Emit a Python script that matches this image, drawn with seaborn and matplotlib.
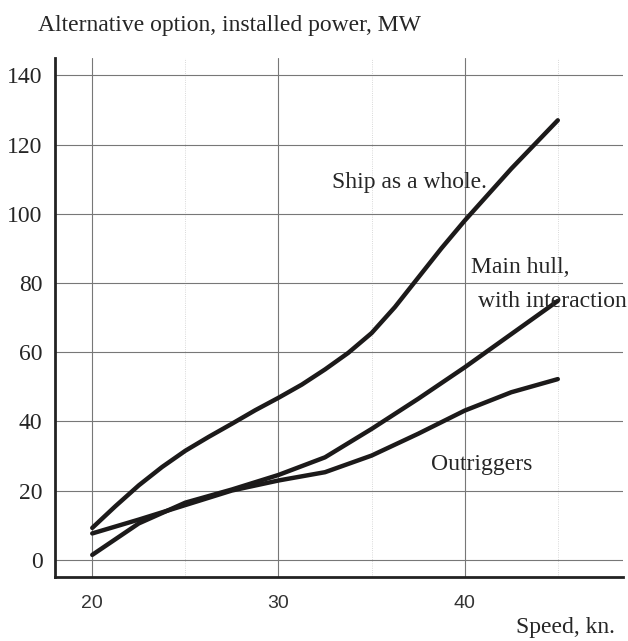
import numpy as np
import pandas as pd
import matplotlib
matplotlib.use("Agg")
import matplotlib.pyplot as plt
import seaborn as sns
from matplotlib.ticker import MultipleLocator

# values
ship_speed = [20, 21.25, 22.5, 23.75, 25, 26.25, 27.5, 28.75, 30, 31.25, 32.5,
              33.75, 35, 36.25, 37.5, 38.75, 40, 42.5, 45]
ship_whole = [9.2, 15.5, 21.5, 26.8, 31.5, 35.5, 39.3, 43.2, 46.8, 50.6, 55,
              59.8, 65.5, 73, 81.5, 90, 98, 113, 127]

speed = [20, 22.5, 25, 27.5, 30, 32.5, 35, 37.5, 40, 42.5, 45]
main_hull = [1.4, 10.5, 16.5, 20.3, 24.5, 29.6, 37.8, 46.5, 55.6, 65.2, 74.8]
outriggers = [7.6, 11.6, 15.8, 20, 22.9, 25.3, 30.1, 36.4, 43.1, 48.4, 52.2]

df = pd.concat([
    pd.DataFrame({"speed": ship_speed, "power": ship_whole, "series": "Ship as a whole"}),
    pd.DataFrame({"speed": speed, "power": main_hull, "series": "Main hull"}),
    pd.DataFrame({"speed": speed, "power": outriggers, "series": "Outriggers"}),
], ignore_index=True)

sns.set_style("white")
plt.rcParams["font.family"] = ["Liberation Serif", "DejaVu Serif"]

fig = plt.figure(figsize=(6.28, 6.41), dpi=100)
ax = fig.add_axes([0.0876, 0.0998, 0.9044, 0.8097])

sns.lineplot(data=df, x="speed", y="power", hue="series",
             palette=["#1c1a1a"] * 3, linewidth=3.2, legend=False, ax=ax)

ax.set_xlim(18, 48.5)
ax.set_ylim(-5, 145)
ax.xaxis.set_major_locator(MultipleLocator(10))
ax.xaxis.set_minor_locator(MultipleLocator(5))
ax.yaxis.set_major_locator(MultipleLocator(20))
ax.yaxis.set_minor_locator(MultipleLocator(10))

ax.grid(which="major", color="#777777", linewidth=0.8)
ax.grid(which="minor", axis="x", color="#cccccc", linewidth=0.6, linestyle=":")

for s in ["top", "right"]:
    ax.spines[s].set_visible(False)
for s in ["left", "bottom"]:
    ax.spines[s].set_linewidth(2)
    ax.spines[s].set_color("#222222")

ax.tick_params(which="major", length=7, width=1.2, color="#222222")
ax.tick_params(which="minor", length=5, width=1.2, color="#222222")
ax.tick_params(axis="y", labelsize=17, pad=2)
ax.tick_params(axis="x", labelsize=14, pad=6)
for lab in ax.get_xticklabels():
    lab.set_family("Liberation Sans")
    lab.set_color("#333333")

ax.set_xlabel("")
ax.set_ylabel("")

ax.text(32.9, 109, "Ship as a whole.", fontsize=17, va="center", ha="left")
ax.text(40.35, 84.5, "Main hull,", fontsize=17, va="center", ha="left")
ax.text(40.7, 74.6, "with interaction", fontsize=17, va="center", ha="left")
ax.text(38.2, 27.5, "Outriggers", fontsize=17, va="center", ha="left")

fig.text(38 / 628, 1 - 25 / 641, "Alternative option, installed power, MW",
         fontsize=17, va="center", ha="left")
fig.text(615 / 628, 1 - 627 / 641, "Speed, kn.", fontsize=17, va="center", ha="right")

fig.savefig("out.png", dpi=100)
